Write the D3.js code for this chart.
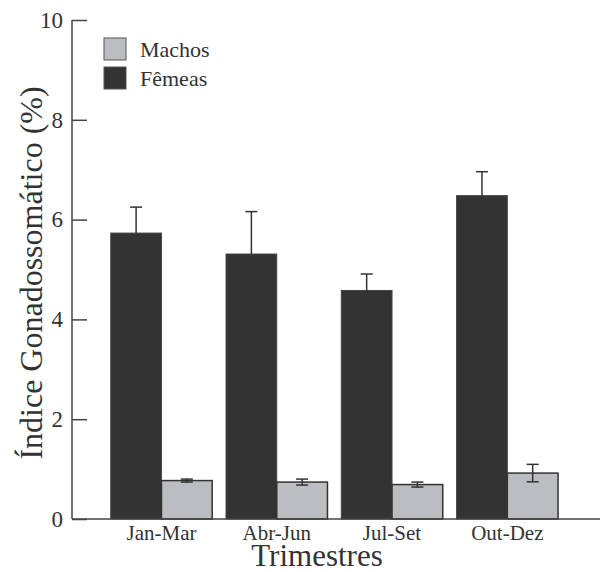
<!DOCTYPE html>
<html>
<head>
<meta charset="utf-8">
<script src="https://d3js.org/d3.v7.min.js"></script>
<style>
  body { margin: 0; background: #fff; }
  text { font-family: "Liberation Serif", "DejaVu Serif", serif; fill: #333; }
</style>
</head>
<body>
<script>
// data
var trimestres = ["Jan-Mar", "Abr-Jun", "Jul-Set", "Out-Dez"];
var femeas     = [5.73, 5.31, 4.58, 6.48];
var femeasErr  = [0.52, 0.85, 0.33, 0.48];
var machos     = [0.77, 0.74, 0.69, 0.92];
var machosErr  = [0.03, 0.06, 0.05, 0.175];
var yTicks     = [0, 2, 4, 6, 8, 10];

var W = 611, H = 572;
var x0 = 72, y0 = 519, yTop = 20;
var serif = "Liberation Serif";

var svg = d3.select("body").append("svg")
    .attr("width", W).attr("height", H);

var y = d3.scaleLinear().domain([0, 10]).range([y0, yTop]);

var x = d3.scaleBand()
    .domain(trimestres)
    .range([x0, 600])
    .paddingInner(0.12)
    .paddingOuter(0.35)
    .align(0.48);

var xs = d3.scaleBand()
    .domain(["f", "m"])
    .range([0, x.bandwidth()]);

var dark = "#333333", light = "#bcbdc0";

// bars
var g = svg.append("g");
trimestres.forEach(function(t, i) {
    var bx = x(t);
    // female
    g.append("rect")
        .attr("x", bx + xs("f")).attr("width", xs.bandwidth())
        .attr("y", y(femeas[i])).attr("height", y0 - y(femeas[i]))
        .attr("fill", dark).attr("stroke", "#444").attr("stroke-width", 1);
    // male
    g.append("rect")
        .attr("x", bx + xs("m")).attr("width", xs.bandwidth())
        .attr("y", y(machos[i])).attr("height", y0 - y(machos[i]))
        .attr("fill", light).attr("stroke", "#333").attr("stroke-width", 1.5);

    // female error bar (up only)
    var cf = bx + xs("f") + xs.bandwidth() / 2;
    g.append("line")
        .attr("x1", cf).attr("x2", cf)
        .attr("y1", y(femeas[i])).attr("y2", y(femeas[i] + femeasErr[i]))
        .attr("stroke", "#333").attr("stroke-width", 1.5);
    g.append("line")
        .attr("x1", cf - 6).attr("x2", cf + 6)
        .attr("y1", y(femeas[i] + femeasErr[i])).attr("y2", y(femeas[i] + femeasErr[i]))
        .attr("stroke", "#333").attr("stroke-width", 1.5);

    // male error bar (both ways)
    var cm = bx + xs("m") + xs.bandwidth() / 2;
    g.append("line")
        .attr("x1", cm).attr("x2", cm)
        .attr("y1", y(machos[i] - machosErr[i])).attr("y2", y(machos[i] + machosErr[i]))
        .attr("stroke", "#333").attr("stroke-width", 1.5);
    [machos[i] - machosErr[i], machos[i] + machosErr[i]].forEach(function(v) {
        g.append("line")
            .attr("x1", cm - 6).attr("x2", cm + 6)
            .attr("y1", y(v)).attr("y2", y(v))
            .attr("stroke", "#333").attr("stroke-width", 1.5);
    });
});

// y axis, ticks pointing inward
var yAxis = svg.append("g")
    .attr("transform", "translate(" + x0 + ",0)")
    .call(d3.axisRight(y).tickValues(yTicks).tickSize(15).tickFormat(d3.format("d")));
yAxis.attr("font-family", serif);
yAxis.select(".domain").attr("stroke", "#444").attr("stroke-width", 1.5)
    .attr("d", "M0," + yTop + "V" + y0);
yAxis.selectAll(".tick line").attr("stroke", "#444").attr("stroke-width", 1.5);
yAxis.selectAll(".tick text")
    .attr("x", -9).attr("text-anchor", "end")
    .attr("font-size", 23).attr("fill", "#333")
    .attr("font-family", serif);

// x axis
var xAxis = svg.append("g")
    .attr("transform", "translate(0," + y0 + ")")
    .call(d3.axisBottom(x).tickSize(0).tickPadding(6));
xAxis.attr("font-family", serif);
xAxis.select(".domain").attr("stroke", "#444").attr("stroke-width", 1.5)
    .attr("d", "M" + x0 + ",0H600");
xAxis.selectAll(".tick text")
    .attr("font-size", 21).attr("fill", "#333")
    .attr("font-family", serif);

// axis titles
svg.append("text")
    .attr("x", 317).attr("y", 566)
    .attr("text-anchor", "middle")
    .attr("font-family", serif)
    .attr("font-size", 31)
    .text("Trimestres");

svg.append("text")
    .attr("transform", "translate(42,273) rotate(-90)")
    .attr("text-anchor", "middle")
    .attr("font-family", serif)
    .attr("font-size", 32)
    .text("Índice Gonadossomático (%)");

// legend
var legend = [["Machos", light], ["Fêmeas", dark]];
legend.forEach(function(d, i) {
    svg.append("rect")
        .attr("x", 104).attr("y", 38 + i * 29)
        .attr("width", 22).attr("height", 22)
        .attr("fill", d[1]).attr("stroke", "#555").attr("stroke-width", 1);
    svg.append("text")
        .attr("x", 140).attr("y", 57 + i * 29)
        .attr("font-family", serif)
        .attr("font-size", 22)
        .text(d[0]);
});
</script>
</body>
</html>
